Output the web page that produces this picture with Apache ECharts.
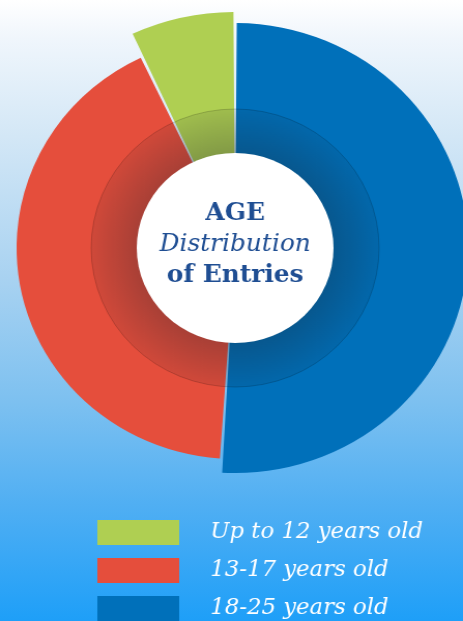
<!DOCTYPE html>
<html>
<head>
<meta charset="utf-8">
<script src="https://cdn.jsdelivr.net/npm/echarts@6/dist/echarts.min.js"></script>
<style>
  html, body { margin: 0; padding: 0; }
  body {
    width: 463px; height: 621px; overflow: hidden;
    background: linear-gradient(to bottom, #ffffff 0%, #f0f6fc 6%, #d3e7f6 22%, #a8d2f1 45%, #7cc0f0 65%, #4eaef3 82%, #1e9ff8 100%);
  }
  #chart { width: 447px; height: 621px; transform: scaleX(1.0358); transform-origin: 0 0; }
</style>
</head>
<body>
<div id="chart"></div>
<script>
// ---- data ----
const categories = ['18-25 years old', '13-17 years old', 'Up to 12 years old'];
const values = [51, 42, 7];
const legendOrder = ['Up to 12 years old', '13-17 years old', '18-25 years old'];
const centerTitle = ['AGE', 'Distribution', 'of Entries'];

// ---- styling / layout ----
const colors = ['#0070ba', '#e54e3c', '#afcf52'];
const outerRadii = [225, 211, 236];
const center = [227, 248];
const innerR = 94;
const ringR = 139;

const chart = echarts.init(document.getElementById('chart'), null, { renderer: 'canvas' });

const sliceSeries = categories.map((cat, k) => ({
  type: 'pie',
  center: center,
  radius: [innerR, outerRadii[k]],
  startAngle: 90,
  clockwise: true,
  padAngle: 0.8,
  silent: true,
  z: 1,
  label: { show: false },
  labelLine: { show: false },
  emphasis: { disabled: true },
  data: values.map((v, i) => i === k
    ? { name: categories[i], value: v, itemStyle: { color: colors[i] } }
    : { value: v, itemStyle: { color: 'rgba(0,0,0,0)' } })
}));

const ringSeries = {
  type: 'pie',
  center: center,
  radius: [innerR, ringR],
  silent: true,
  z: 2,
  label: { show: false },
  labelLine: { show: false },
  emphasis: { disabled: true },
  data: [{
    value: 1,
    itemStyle: {
      color: new echarts.graphic.RadialGradient(0.5, 0.5, 0.5, [
        { offset: 0, color: 'rgba(25,30,40,0.30)' },
        { offset: 0.67, color: 'rgba(25,30,40,0.30)' },
        { offset: 1, color: 'rgba(25,30,40,0.10)' }
      ]),
      borderColor: 'rgba(0,0,0,0.18)',
      borderWidth: 1
    }
  }]
};

const centerSeries = {
  type: 'pie',
  center: center,
  radius: [0, innerR + 1],
  silent: true,
  z: 3,
  labelLine: { show: false },
  emphasis: { disabled: true },
  label: {
    show: true,
    position: 'center',
    padding: [0, 0, 7, 0],
    formatter: '{a|' + centerTitle[0] + '}\n{b|' + centerTitle[1] + '}\n{c|' + centerTitle[2] + '}',
    rich: {
      a: { fontFamily: 'DejaVu Serif', fontWeight: 'bold', fontSize: 24, color: '#1f4e93', lineHeight: 31 },
      b: { fontFamily: 'DejaVu Serif', fontStyle: 'italic', fontSize: 24, color: '#1f4e93', lineHeight: 31 },
      c: { fontFamily: 'DejaVu Serif', fontWeight: 'bold', fontSize: 24, color: '#1f4e93', lineHeight: 31 }
    }
  },
  data: [{ value: 1, itemStyle: { color: '#ffffff' } }]
};

chart.setOption({
  animation: false,
  backgroundColor: 'transparent',
  legend: {
    data: legendOrder,
    orient: 'vertical',
    left: 94,
    top: 520,
    height: 150,
    padding: 0,
    icon: 'rect',
    itemWidth: 79,
    itemHeight: 25,
    itemGap: 13,
    selectedMode: false,
    textStyle: {
      color: '#ffffff',
      fontFamily: 'DejaVu Serif',
      fontStyle: 'italic',
      fontSize: 22,
      lineHeight: 25,
      padding: [0, 0, 0, 25]
    }
  },
  series: sliceSeries.concat([ringSeries, centerSeries])
});
</script>
</body>
</html>
